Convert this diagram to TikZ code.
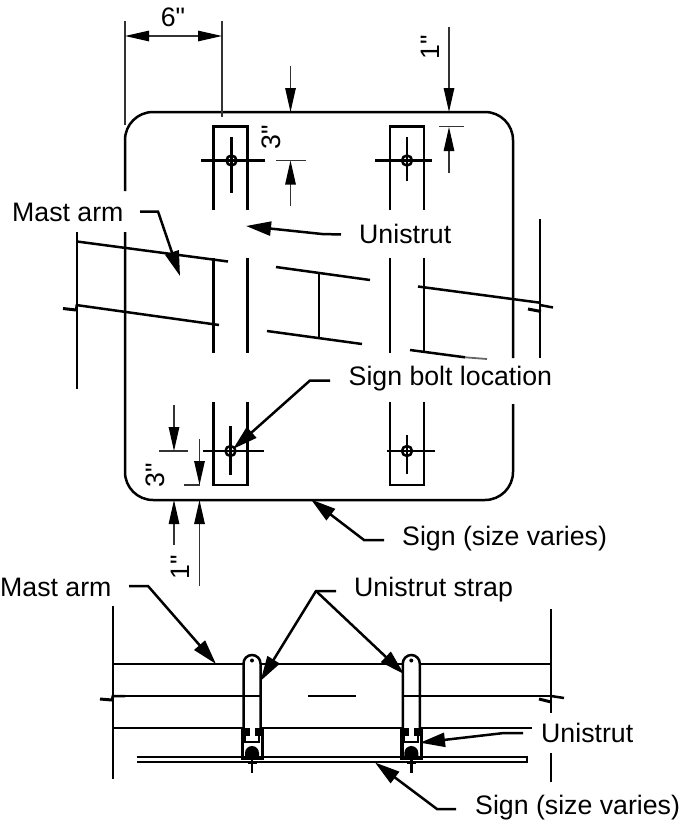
\documentclass[tikz,border=0pt]{standalone}
\usepackage{fontspec}
\newfontfamily\labfont{Liberation Sans}
\usetikzlibrary{arrows.meta}
\tikzset{
 x=1pt,y=-1pt,
 thick line/.style={line width=2.5pt,black},
 dimline/.style={line width=1.2pt,black!80},
 leader/.style={line width=2.5pt,black,-{Triangle[length=25pt,width=14pt]}},
 dimarrow/.style={line width=1.2pt,black!80,-{Triangle[length=24pt,width=10.5pt,color=black]}},
 dimboth/.style={line width=1.2pt,black!80,{Triangle[length=24pt,width=10.5pt,color=black]}-{Triangle[length=24pt,width=10.5pt,color=black]}},
 lab/.style={font=\labfont\fontsize{26.7}{30}\selectfont,inner sep=0pt,text=black},
 mastbreak/.style={line width=3pt,black},
}
\begin{document}
\begin{tikzpicture}
\useasboundingbox (0,0) rectangle (694,825);
% ---- sign outline
\draw[thick line] (125,191) -- (125,140) arc[start angle=180,end angle=90,radius=28pt] -- (485,112) arc[start angle=90,end angle=0,radius=28pt] -- (513,358);
\draw[thick line] (513,404) -- (513,472) arc[start angle=0,end angle=-90,radius=28pt] -- (153,500) arc[start angle=270,end angle=180,radius=28pt] -- (125,232);
% ---- struts
\foreach \a/\b in {213.5/247.5,390/424}{
  \draw[thick line] (\a,210) -- (\a,126.5) -- (\b,126.5) -- (\b,210);
  \draw[thick line] (\a,258) -- (\a,353) (\b,258) -- (\b,353);
  \draw[thick line] (\a,402) -- (\a,485) -- (\b,485) -- (\b,402);
}
% ---- bolts
\foreach \cx/\cy/\xa/\xb/\ya/\yb in {231.5/160.5/201/265/137/193, 407/160.5/375/432/137/181, 230.5/451/203/264/426/475, 407/451/387/435/435/474}{
  \draw[thick line] (\xa,\cy) -- (\xb,\cy) (\cx,\ya) -- (\cx,\yb);
  \draw[thick line] (\cx,\cy) circle[radius=5pt];
}
% ---- mast arm, front view
\draw[thick line] (77,232) -- (77,389);
\draw[thick line] (540,219) -- (540,358);
\draw[thick line] (77,241.5) -- (228,261.5);
\draw[thick line] (276,267) -- (370,280);
\draw[thick line] (418,286.5) -- (540,302.7);
\draw[thick line] (76,305) -- (219,325);
\draw[thick line] (267,331) -- (362,344);
\draw[thick line] (410,350) -- (465,357.3);
\draw[line width=1.8pt,black!60] (465,357.3) -- (487,359);
\draw[thick line] (319,274) -- (319,338);
\draw[mastbreak] (63,308.5) -- (76,310);
\draw[thick line] (77,304) -- (76,310);
\draw[thick line] (540,305) -- (553,307.5);
\draw[mastbreak] (528,309) -- (541,311.5);
\draw[thick line] (540,302) -- (540,311.5);
% ---- dimensions
\draw[dimline] (125,21) -- (125,125) (222,21) -- (222,117);
\draw[dimboth] (125,36) -- (222,36);
\node[lab] (six) at (173,17) {6"};
\draw[dimarrow] (290.5,66) -- (290.5,112);
\draw[dimarrow] (290.5,206) -- (290.5,160.5);
\draw[dimline] (276,160.3) -- (306,160.3);
\node[lab,rotate=90] (threeA) at (271,137) {3"};
\draw[dimarrow] (449,27) -- (449,112);
\draw[dimarrow] (449,172.5) -- (449,127);
\draw[dimline] (439,126.5) -- (464,126.5);
\node[lab,rotate=90] (oneA) at (430,47) {1"};
\draw[dimarrow] (174,405) -- (174,451);
\draw[dimarrow] (174,545) -- (174,500);
\draw[dimline] (159,451) -- (188,451);
\node[lab,rotate=90] (threeB) at (155,475) {3"};
\draw[dimarrow] (199.5,439) -- (199.5,485);
\draw[dimarrow] (199.5,586) -- (199.5,500);
\draw[dimline] (184,485) -- (199.5,485);
\node[lab,rotate=90] (oneB) at (180,567) {1"};
% ---- labels, upper view
\node[lab,anchor=west] (mastA) at (12,212) {Mast arm};
\node[lab,anchor=west] (uniA) at (359,234) {Unistrut};
\node[lab,anchor=west] (bolt) at (348.5,379) {Sign bolt location};
\node[lab,anchor=west] (signA) at (402,539) {Sign (size varies)};
\coordinate (mastAtail) at (140,211.5);
\coordinate (mastAtip) at (180,276);
\coordinate (uniAtail) at (341,234.5);
\coordinate (uniAtip) at (246,226);
\coordinate (boltTail) at (330,380.5);
\coordinate (boltTip) at (233,449);
\coordinate (signAtail) at (384,540);
\coordinate (signAtip) at (311,499.5);
\draw[leader] (mastAtail) -- (158,211.5) -- (mastAtip);
\draw[leader] (uniAtail) -- (322,234) -- (uniAtip);
\draw[leader] (boltTail) -- (310,380.5) -- (boltTip);
\draw[leader] (signAtail) -- (364,540) -- (signAtip);
% ---- side view
\draw[thick line] (113,606) -- (113,779);
\draw[thick line] (551,609) -- (551,713) (551,753) -- (551,782);
\draw[thick line] (113,664) -- (243,664) (260,664) -- (403,664) (419,664) -- (551,664);
\draw[thick line] (113,696) -- (260,696) (308,696) -- (356,696) (404,696) -- (551,696);
\draw[thick line] (113,728) -- (241,728) (263,728) -- (401,728) (422,728) -- (532,728);
\draw[line width=2pt] (136.5,757.3) -- (527,757.3) -- (527,762.3) -- (136.5,762.3);
\draw[mastbreak] (100,699) -- (112,700);
\draw[thick line] (113,695) -- (112,700) (113,696) -- (125,696);
\draw[thick line] (551,696) -- (564,698);
\draw[mastbreak] (539,699) -- (551,702);
% straps and unistrut sections
\foreach \c in {252,411.3}{
  \draw[thick line] (\c-8.5,728) -- (\c-8.5,663.5) arc[start angle=180,end angle=0,radius=8.5pt] -- (\c+8.5,728);
  \fill (\c,660.5) circle[radius=2pt];
  \draw[line width=3pt] (\c-10,727) -- (\c-10,758) -- (\c+10,758) -- (\c+10,727);
  \fill (\c-9,728) rectangle (\c-2.5,736);
  \fill (\c+2.5,728) rectangle (\c+9,736);
  \draw[line width=2pt] (\c-7,735) -- (\c-7,742) -- (\c+7,742) -- (\c+7,735);
  \fill (\c-7,757) -- (\c-7,753) arc[start angle=180,end angle=0,x radius=7pt,y radius=7pt] -- (\c+7,757) -- cycle;
  \draw[thick line] (\c,757) -- (\c,773);
  \draw[thick line] (\c-4.5,762.5) -- (\c+4.5,762.5);
}
\draw[line width=2pt] (402.8,730) -- (402.8,757);
% ---- labels, side view
\node[lab,anchor=west] (mastB) at (0,587) {Mast arm};
\node[lab,anchor=west] (strapL) at (354,590) {Unistrut strap};
\node[lab,anchor=west] (uniB) at (541,733) {Unistrut};
\node[lab,anchor=west] (signB) at (475,808) {Sign (size varies)};
\coordinate (mastBtail) at (129,586);
\coordinate (mastBtip) at (216,664);
\coordinate (strapTail) at (336,591);
\coordinate (strapElbow) at (316,591);
\coordinate (strapTipA) at (260.5,681);
\coordinate (strapTipB) at (404,674);
\coordinate (uniBtail) at (523,733);
\coordinate (uniBtip) at (420,742.7);
\coordinate (signBtail) at (456,809);
\coordinate (signBtip) at (375,762.5);
\draw[leader] (mastBtail) -- (148,586) -- (mastBtip);
\draw[leader] (strapTail) -- (strapElbow) -- (strapTipA);
\draw[leader] (strapElbow) -- (strapTipB);
\draw[leader] (uniBtail) -- (504,733) -- (uniBtip);
\draw[leader] (signBtail) -- (437,809) -- (signBtip);
\end{tikzpicture}
\end{document}
